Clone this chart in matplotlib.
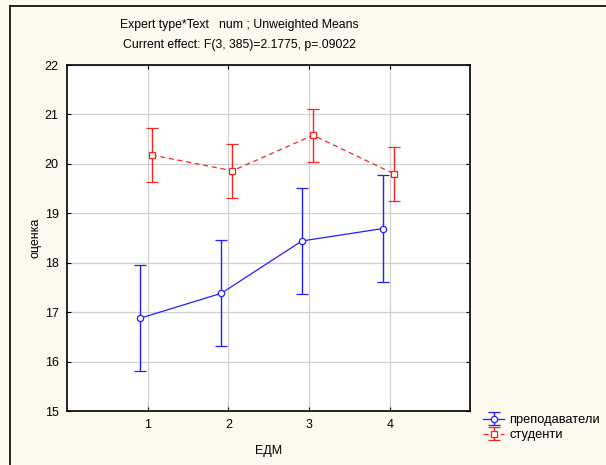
import matplotlib.pyplot as plt
from matplotlib.lines import Line2D

plt.rcParams['font.family'] = ['Liberation Sans', 'DejaVu Sans']

# data
edm = [1, 2, 3, 4]
teachers_mean = [16.88, 17.38, 18.44, 18.69]
teachers_ci = [1.07, 1.07, 1.07, 1.08]
students_mean = [20.18, 19.86, 20.58, 19.80]
students_ci = [0.54, 0.55, 0.54, 0.55]
labels = ['преподаватели', 'студенти']

bg = '#FDF9EF'
blue = '#2020FF'
red = '#FF2020'
fig = plt.figure(figsize=(6.06, 4.65), dpi=100, facecolor=bg)
ax = fig.add_axes([0.1106, 0.1161, 0.6658, 0.7441])
ax.set_facecolor('white')

# outer frame (top and left only)
fig.add_artist(Line2D([10/606, 10/606], [0, 1 - 6/465], color='black', lw=1.2, transform=fig.transFigure))
fig.add_artist(Line2D([10/606, 1], [1 - 6/465, 1 - 6/465], color='black', lw=1.2, transform=fig.transFigure))

xb = [x - 0.09 for x in edm]
xr = [x + 0.05 for x in edm]

eb1 = ax.errorbar(xb, teachers_mean, yerr=teachers_ci, color=blue, lw=0.9, marker='o',
                  ms=4.5, mfc='white', mec=blue, mew=0.9, capsize=4, elinewidth=1, capthick=1.2,
                  label=labels[0], zorder=3)
eb2 = ax.errorbar(xr, students_mean, yerr=students_ci, color=red, lw=0.9, ls=(0, (4, 3)),
                  marker='s', ms=4.5, mfc='white', mec=red, mew=0.9, capsize=4, elinewidth=1,
                  capthick=1.2, label=labels[1], zorder=3)
eb2[-1][0].set_linestyle('-')

ax.set_xlim(0, 5)
ax.set_ylim(15, 22)
ax.set_xticks(edm)
ax.set_yticks(range(15, 23))
ax.grid(True, color='#D0D0D0', lw=0.9)
ax.set_axisbelow(True)
ax.tick_params(direction='in', top=True, right=True, labelsize=9, length=3, width=0.8, pad=6)
for s in ax.spines.values():
    s.set_linewidth(1.2)

ax.set_xlabel('ЕДМ', fontsize=9, labelpad=10)
ax.set_ylabel('оценка', fontsize=9, labelpad=2)

fig.text(239/606, 1 - 25/465, 'Expert type*Text   num ; Unweighted Means', ha='center', va='center', fontsize=8.8)
fig.text(239/606, 1 - 45/465, 'Current effect: F(3, 385)=2.1775, p=.09022', ha='center', va='center', fontsize=8.8)

fig.legend(handles=[eb1, eb2], labels=labels, loc='upper left', bbox_to_anchor=(478/606, 1 - 409/465),
           frameon=False, fontsize=9.3, handlelength=1.6, handletextpad=0.4, labelspacing=0.25,
           borderaxespad=0)

fig.savefig('out.png', dpi=100, facecolor=bg)
